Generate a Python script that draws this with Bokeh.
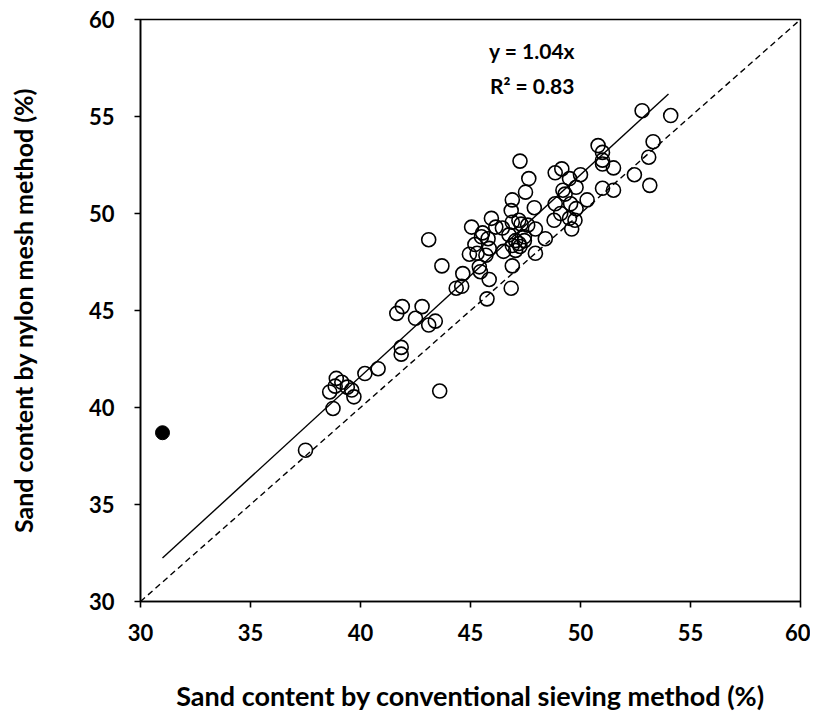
from bokeh.plotting import figure
from bokeh.models import ColumnDataSource, FixedTicker
from bokeh.core.properties import value
from bokeh.embed import file_html
from bokeh.resources import INLINE

# Open circles: (conventional sieving, nylon mesh)
sieve = [37.5, 38.75, 38.6, 38.9, 38.85, 39.15, 39.4, 39.6, 39.7, 40.2,
         40.8, 41.85, 41.85, 41.65, 41.9, 42.5, 42.8, 43.1, 43.4, 43.6,
         43.1, 43.7, 44.35, 44.6, 44.65, 44.95, 45.05, 45.2, 45.3, 45.4,
         45.45, 45.5, 45.55, 45.7, 45.75, 45.8, 45.85, 45.85, 45.95, 46.15,
         46.45, 46.5, 46.75, 46.85, 46.9, 46.9, 46.9, 46.9, 46.85, 47.05,
         47.05, 47.2, 47.2, 47.25, 47.25, 47.3, 47.45, 47.45, 47.5, 47.6,
         47.65, 47.9, 47.95, 47.95, 48.4, 48.8, 48.85, 48.85, 49.1, 49.15,
         49.2, 49.3, 49.5, 49.5, 49.55, 49.6, 49.8, 49.8, 50.0, 50.3,
         50.8, 51.0, 51.0, 51.0, 51.5, 51.0, 51.5, 52.45, 52.8, 53.1,
         53.15, 53.3, 54.1, 49.75]
nylon = [37.8, 39.95, 40.8, 41.5, 41.1, 41.3, 41.05, 40.9, 40.55, 41.75,
         42.0, 43.1, 42.75, 44.85, 45.2, 44.6, 45.2, 44.25, 44.45, 40.85,
         48.65, 47.3, 46.15, 46.25, 46.9, 47.9, 49.3, 48.4, 47.95, 47.25,
         47.0, 48.8, 49.0, 47.85, 45.6, 48.7, 48.2, 46.6, 49.75, 49.3,
         49.25, 48.05, 48.9, 50.15, 50.7, 49.55, 48.35, 47.3, 46.15, 48.6,
         48.1, 49.65, 48.45, 48.3, 52.7, 49.45, 48.8, 48.6, 51.1, 49.4,
         51.8, 50.3, 49.2, 47.95, 48.7, 49.65, 50.5, 52.1, 50.0, 52.3,
         51.2, 51.0, 51.8, 49.75, 50.5, 49.2, 51.35, 50.25, 52.0, 50.7,
         53.5, 53.15, 52.75, 52.55, 52.35, 51.3, 51.2, 52.0, 55.3, 52.9,
         51.45, 53.7, 55.05, 49.65]

# Filled (excluded) point
out_x = [31.0]
out_y = [38.7]

# Regression line y = 1.04x
slope = 1.04
fit_x = [31.0, 54.0]
one_to_one = [30.0, 60.0]

eq_text = ["y = 1.04x", "R\u00b2 = 0.83"]
eq_x = [47.8, 47.8]
eq_y = [58.4, 56.6]

ticks = [30, 35, 40, 45, 50, 55, 60]

FONT = "Lato"

p = figure(width=810, height=719, x_range=(30, 60), y_range=(30, 60),
           output_backend="svg", toolbar_location=None,
           min_border_left=140, min_border_right=10, min_border_top=19,
           min_border_bottom=118)
p.xgrid.visible = False
p.ygrid.visible = False
p.outline_line_color = "black"
p.outline_line_width = 1.5

# 1:1 dashed line
p.line(one_to_one, one_to_one, line_color="black", line_width=1.4, line_dash="6 4")
# regression line
p.line(fit_x, [slope * v for v in fit_x], line_color="black", line_width=1.4)

p.scatter(sieve, nylon, size=14, fill_color=None, line_color="black", line_width=1.6)
p.scatter(out_x, out_y, size=14, fill_color="black", line_color="black")

src = ColumnDataSource(dict(x=eq_x, y=eq_y, t=eq_text))
p.text(x="x", y="y", text="t", source=src, text_align="center", text_baseline="middle",
       text_font=value(FONT), text_font_style="bold", text_font_size="21px", text_color="black")

for ax in (p.xaxis[0], p.yaxis[0]):
    ax.ticker = FixedTicker(ticks=ticks)
    ax.axis_line_width = 1.6
    ax.major_tick_line_width = 1.6
    ax.major_tick_out = 6
    ax.major_tick_in = 0
    ax.minor_tick_line_color = None
    ax.major_label_text_font = FONT
    ax.major_label_text_font_style = "bold"
    ax.major_label_text_font_size = "22px"
    ax.major_label_text_color = "black"
    ax.axis_label_text_font = FONT
    ax.axis_label_text_font_style = "bold"
    ax.axis_label_text_color = "black"

p.xaxis.axis_label = "Sand content by conventional sieving method (%)"
p.yaxis.axis_label = "Sand content by nylon mesh method (%)"
p.xaxis.axis_label_text_font_size = "27px"
p.yaxis.axis_label_text_font_size = "25px"
p.xaxis.major_label_standoff = 16
p.yaxis.major_label_standoff = 20
p.xaxis.axis_label_standoff = 35
p.yaxis.axis_label_standoff = 48

open("out.html", "w").write(file_html(p, INLINE))
